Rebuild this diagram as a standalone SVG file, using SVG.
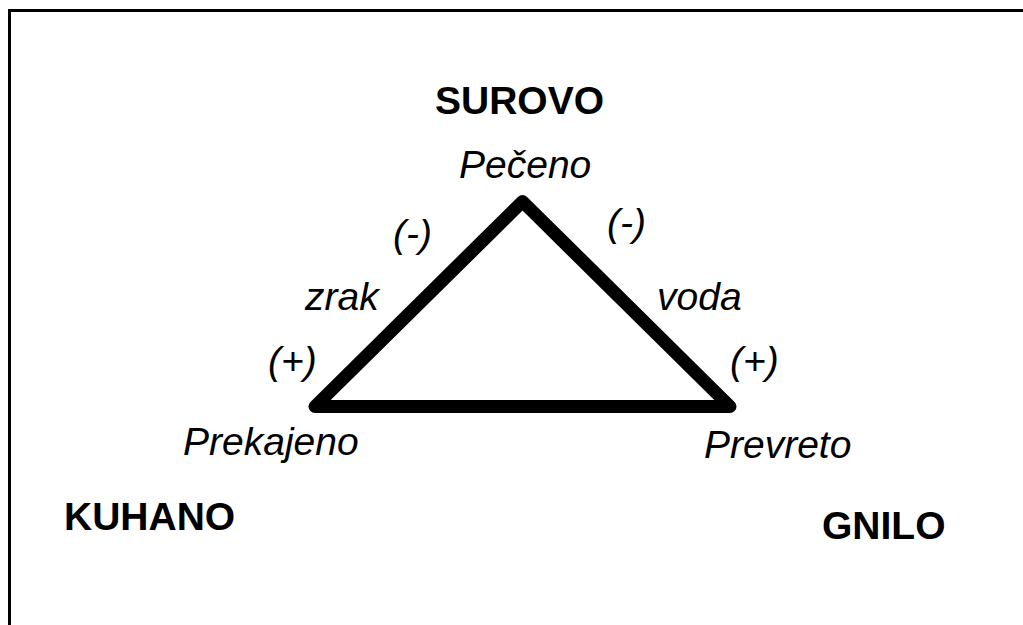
<svg xmlns="http://www.w3.org/2000/svg" width="1023" height="625" viewBox="0 0 1023 625">
<style>
.b{font-family:"Liberation Sans",Arial,sans-serif;font-weight:bold;font-size:39px;fill:#000}
.i{font-family:"Liberation Sans",Arial,sans-serif;font-style:italic;font-size:39px;fill:#000}
.edge{fill:none;stroke:#000;stroke-width:13;stroke-linejoin:round;stroke-linecap:round}
</style>
<rect x="0" y="0" width="1023" height="625" fill="#fff"/>
<rect x="9.5" y="10.5" width="1100" height="700" fill="none" stroke="#000" stroke-width="3"/>
<g id="connectors">
<path class="edge" d="M522.5,201.5 L315,406.5 L730,406.5 Z"/>
</g>
<g id="surovo"><text class="b" x="435" y="114">SUROVO</text></g>
<g id="peceno"><text class="i" x="459" y="178">Pečeno</text></g>
<g id="kuhano"><text class="b" x="64" y="530">KUHANO</text></g>
<g id="prekajeno"><text class="i" x="183" y="455">Prekajeno</text></g>
<g id="gnilo"><text class="b" x="822" y="539">GNILO</text></g>
<g id="prevreto"><text class="i" x="704" y="458">Prevreto</text></g>
<g id="labels">
<text class="i" x="393" y="247">(-)</text>
<text class="i" x="607" y="236">(-)</text>
<text class="i" x="305" y="310">zrak</text>
<text class="i" x="657" y="310">voda</text>
<text class="i" x="268" y="374">(+)</text>
<text class="i" x="730" y="374">(+)</text>
</g>
</svg>
